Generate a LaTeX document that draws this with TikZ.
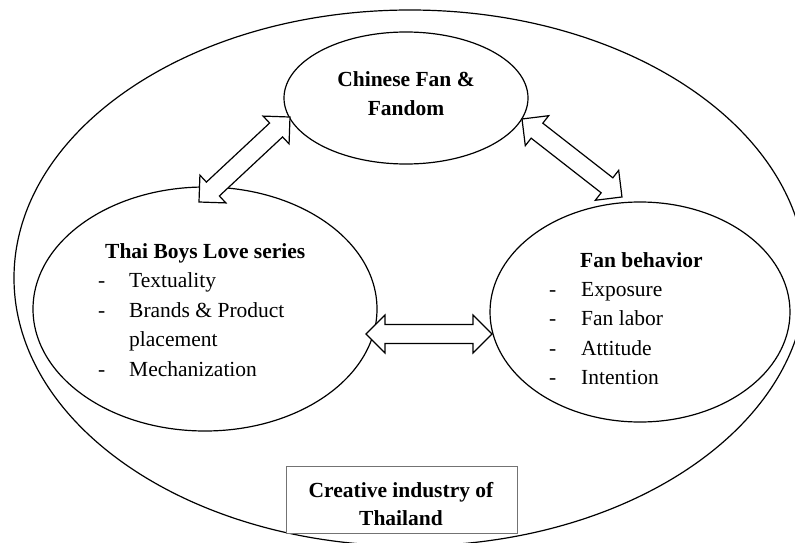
\documentclass[tikz,border=0pt]{standalone}
\usepackage{fontspec}
\setmainfont{Liberation Serif}
\usetikzlibrary{calc}

\tikzset{
  ring/.style={draw=black, line width=1.2pt},
  arrowshape/.style={draw=black, fill=white, line width=1.2pt, line join=miter},
  title/.style={font=\fontsize{21.5}{29.5}\selectfont\bfseries, inner sep=0pt},
  item/.style={font=\fontsize{21.5}{29.5}\selectfont, inner sep=0pt},
  labelbox/.style={draw=black!55, fill=white, line width=0.9pt}
}

% Hollow double-headed block arrow from tip #1 to tip #2
\newcommand\blockarrow[2]{%
  \path let \p1=(#1), \p2=(#2) in \pgfextra{%
    \pgfmathsetmacro\baang{atan2(\y2-\y1,\x2-\x1)}%
    \pgfmathsetmacro\balen{veclen(\x2-\x1,\y2-\y1)}%
    \xdef\baang{\baang}\xdef\balen{\balen}};
  \begin{scope}[shift={(#1)}, rotate=\baang]
    \draw[arrowshape] (0pt,0pt) -- (19pt,19pt) -- (19pt,9.5pt)
      -- ({\balen pt-19pt},9.5pt) -- ({\balen pt-19pt},19pt)
      -- (\balen pt,0pt) -- ({\balen pt-19pt},-19pt)
      -- ({\balen pt-19pt},-9.5pt) -- (19pt,-9.5pt) -- (19pt,-19pt) -- cycle;
  \end{scope}}

\begin{document}
\begin{tikzpicture}[x=1pt, y=-1pt]
  \useasboundingbox (0,0) rectangle (795,543);
  \clip (0,0) rectangle (795,543);

  % Outer setting and the three circles
  \draw[ring] (410,278) ellipse [x radius=396, y radius=268];
  \draw[ring] (406,98)  ellipse [x radius=122, y radius=66];
  \draw[ring] (205,309) ellipse [x radius=172, y radius=122];
  \draw[ring] (640,312) ellipse [x radius=150, y radius=110];

  % Arrow tips
  \coordinate (la) at (199,202);
  \coordinate (lb) at (290,117);
  \coordinate (ra) at (522,119);
  \coordinate (rb) at (622,197);
  \coordinate (ha) at (366,334);
  \coordinate (hb) at (492,334);

  \blockarrow{la}{lb}
  \blockarrow{ra}{rb}
  \blockarrow{ha}{hb}

  % Top circle text
  \node[title, anchor=base] (cf1) at (406,86)  {Chinese Fan \&};
  \node[title, anchor=base] (cf2) at (406,115) {Fandom};

  % Left circle text
  \node[title, anchor=base west] (tb0) at (105,258) {Thai Boys Love series};
  \node[item, anchor=base west] (tb1d) at (98,287) {-};
  \node[item, anchor=base west] (tb1) at (129,287) {Textuality};
  \node[item, anchor=base west] (tb2d) at (98,317) {-};
  \node[item, anchor=base west] (tb2) at (129,317) {Brands \& Product};
  \node[item, anchor=base west] (tb3) at (129,346) {placement};
  \node[item, anchor=base west] (tb4d) at (98,376) {-};
  \node[item, anchor=base west] (tb4) at (129,376) {Mechanization};

  % Right circle text
  \node[title, anchor=base west] (fb0) at (580,267) {Fan behavior};
  \node[item, anchor=base west] (fb1d) at (549,296) {-};
  \node[item, anchor=base west] (fb1) at (581,296) {Exposure};
  \node[item, anchor=base west] (fb2d) at (549,325) {-};
  \node[item, anchor=base west] (fb2) at (581,325) {Fan labor};
  \node[item, anchor=base west] (fb3d) at (549,355) {-};
  \node[item, anchor=base west] (fb3) at (581,355) {Attitude};
  \node[item, anchor=base west] (fb4d) at (549,384) {-};
  \node[item, anchor=base west] (fb4) at (581,384) {Intention};

  % Label box at the bottom
  \draw[labelbox] (286,466) rectangle (517,533);
  \node[title, anchor=base] (ci1) at (401,497) {Creative industry of};
  \node[title, anchor=base] (ci2) at (401,525) {Thailand};
\end{tikzpicture}
\end{document}
